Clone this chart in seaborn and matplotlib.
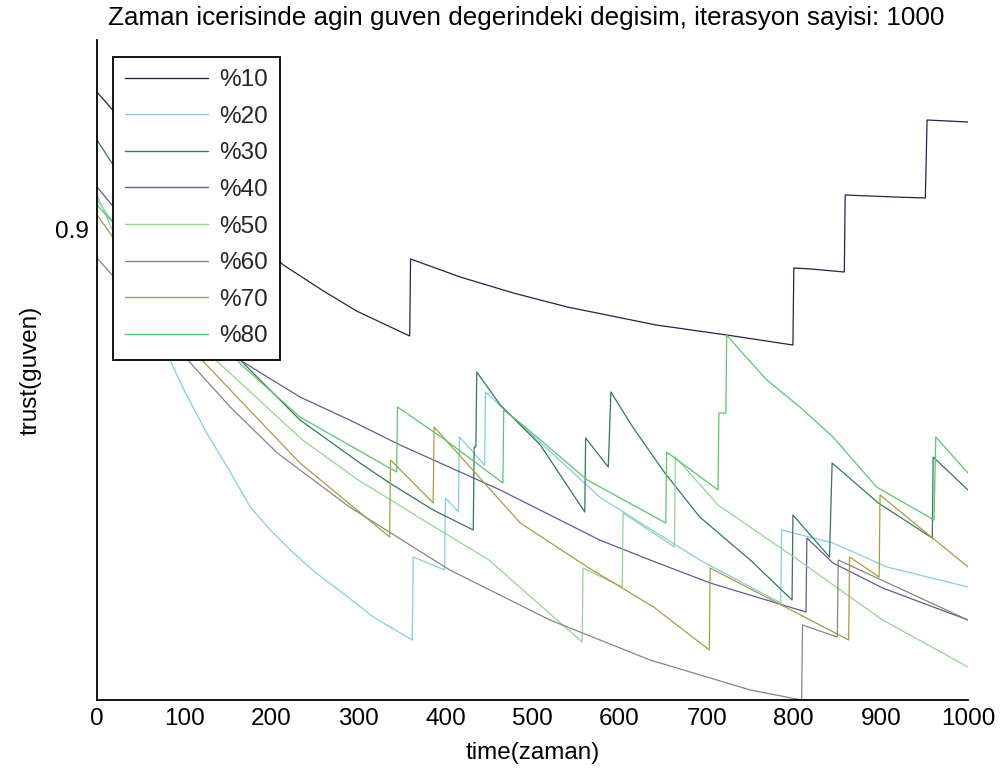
import matplotlib
matplotlib.use("Agg")
import matplotlib.pyplot as plt
import pandas as pd
import seaborn as sns

# Series names (share of malicious nodes) and their line colours
labels = ["%10", "%20", "%30", "%40", "%50", "%60", "%70", "%80"]
colors = ["#2b2048", "#7fd0e2", "#2e7b57", "#5c5c96",
          "#8fd88f", "#8c8282", "#a89c42", "#58c868"]

# Trust value over time for each series (repeated times mark the jumps)
t10 = [0, 18, 214, 260, 298, 359, 360, 417, 478, 540, 642, 723, 799, 800, 820, 858, 859, 916,
       951, 952, 953, 1000]
v10 = [0.9276, 0.924, 0.893, 0.8878, 0.8838, 0.8788, 0.8942, 0.8906, 0.8874, 0.8846, 0.881,
       0.879, 0.877, 0.8924, 0.8922, 0.8916, 0.907, 0.9066, 0.9064, 0.914, 0.922, 0.9216]

t20 = [0, 80, 101, 126, 153, 176, 199, 222, 250, 282, 319, 362, 363, 399, 400, 415, 416, 445,
       446, 577, 692, 785, 786, 845, 907, 1000]
v20 = [0.907, 0.8754, 0.8676, 0.8594, 0.8516, 0.8446, 0.84, 0.836, 0.8316, 0.8274, 0.8224,
       0.818, 0.8346, 0.832, 0.8464, 0.8436, 0.8586, 0.853, 0.8676, 0.8466, 0.834, 0.8254,
       0.84, 0.8374, 0.8326, 0.8286]

t30 = [0, 161, 233, 302, 336, 386, 432, 433, 435, 436, 463, 509, 560, 561, 587, 590, 615, 652,
       692, 750, 798, 799, 841, 844, 897, 959, 960, 1000]
v30 = [0.918, 0.8746, 0.862, 0.8534, 0.8494, 0.844, 0.84, 0.8566, 0.8566, 0.8716, 0.865, 0.857,
       0.8436, 0.8584, 0.8526, 0.8676, 0.8606, 0.8514, 0.8426, 0.834, 0.826, 0.843, 0.8346,
       0.8534, 0.8454, 0.8384, 0.8546, 0.848]

t40 = [0, 164, 233, 290, 348, 463, 577, 635, 704, 814, 815, 845, 902, 1000]
v40 = [0.9086, 0.874, 0.8666, 0.862, 0.857, 0.848, 0.838, 0.834, 0.8294, 0.8236, 0.8384,
       0.8334, 0.8284, 0.822]

t50 = [0, 130, 236, 300, 365, 450, 557, 558, 603, 604, 663, 664, 713, 805, 902, 1000]
v50 = [0.906, 0.875, 0.858, 0.85, 0.843, 0.834, 0.8176, 0.8324, 0.8286, 0.8434, 0.8366,
       0.8546, 0.845, 0.834, 0.822, 0.8126]

t60 = [0, 99, 153, 207, 290, 405, 520, 635, 750, 809, 810, 850, 851, 1000]
v60 = [0.8944, 0.875, 0.8646, 0.8554, 0.8446, 0.832, 0.822, 0.814, 0.808, 0.806, 0.821,
       0.8186, 0.834, 0.822]

t70 = [0, 115, 164, 233, 336, 337, 386, 387, 486, 563, 639, 703, 704, 863, 864, 898, 899, 1000]
v70 = [0.903, 0.875, 0.866, 0.8534, 0.8386, 0.854, 0.8454, 0.8606, 0.8414, 0.8326, 0.8246,
       0.816, 0.8324, 0.818, 0.8346, 0.8306, 0.847, 0.8326]

t80 = [0, 166, 233, 344, 345, 400, 466, 467, 486, 563, 653, 654, 713, 714, 722, 723, 738, 769,
       807, 845, 895, 961, 963, 1000]
v80 = [0.905, 0.873, 0.8626, 0.8516, 0.8646, 0.858, 0.8494, 0.864, 0.8614, 0.85, 0.8414,
       0.8556, 0.848, 0.8634, 0.8634, 0.879, 0.876, 0.87, 0.8646, 0.8586, 0.8486, 0.842,
       0.8586, 0.8514]

times = [t10, t20, t30, t40, t50, t60, t70, t80]
values = [v10, v20, v30, v40, v50, v60, v70, v80]

frames = []
for lab, t, v in zip(labels, times, values):
    frames.append(pd.DataFrame({"time": t, "trust": v, "series": lab}))
df = pd.concat(frames, ignore_index=True)

sns.set_theme(style="white")
plt.rcParams["font.family"] = ["Liberation Sans", "DejaVu Sans"]

W, H = 1001, 780
fig = plt.figure(figsize=(W / 100, H / 100), dpi=100)
ax = fig.add_axes([97 / W, 80 / H, 871 / W, 660 / H])

sns.lineplot(data=df, x="time", y="trust", hue="series", hue_order=labels,
             palette=dict(zip(labels, colors)), estimator=None, sort=False,
             linewidth=0.9, ax=ax)

ax.set_xlim(0, 1000)
ax.set_ylim(0.806, 0.938)
ax.set_xticks(range(0, 1001, 100))
ax.set_yticks([0.9])
ax.set_yticklabels(["0.9"])
for side in ("top", "right"):
    ax.spines[side].set_visible(False)
for side in ("left", "bottom"):
    ax.spines[side].set_color("black")
    ax.spines[side].set_linewidth(1.3)
ax.tick_params(direction="in", length=7, width=1, colors="black", labelsize=17.5, pad=6)
ax.set_xlabel("time(zaman)", fontsize=17.5, color="black")
ax.set_ylabel("trust(guven)", fontsize=17.5, color="black")
ax.xaxis.set_label_coords(0.5, -0.064)
ax.yaxis.set_label_coords(-0.064, 0.5)

handles, _ = ax.get_legend_handles_labels()
for h in handles:
    h.set_linewidth(1.0)
leg = ax.legend(handles, labels, loc="upper left",
                bbox_to_anchor=((113 - 97) / 871, (700 - 57) / 660), fontsize=17.5,
                frameon=True, fancybox=False, edgecolor="black", framealpha=1,
                handlelength=3.4, handletextpad=0.48, labelspacing=0.6,
                borderpad=0.5, borderaxespad=0)
leg.get_frame().set_linewidth(1.3)

fig.text(526 / W, 1 - 18 / H,
         "Zaman icerisinde agin guven degerindeki degisim, iterasyon sayisi: 1000",
         ha="center", va="center", fontsize=18.7, color="black")

fig.savefig("out.png", dpi=100, facecolor="white")
